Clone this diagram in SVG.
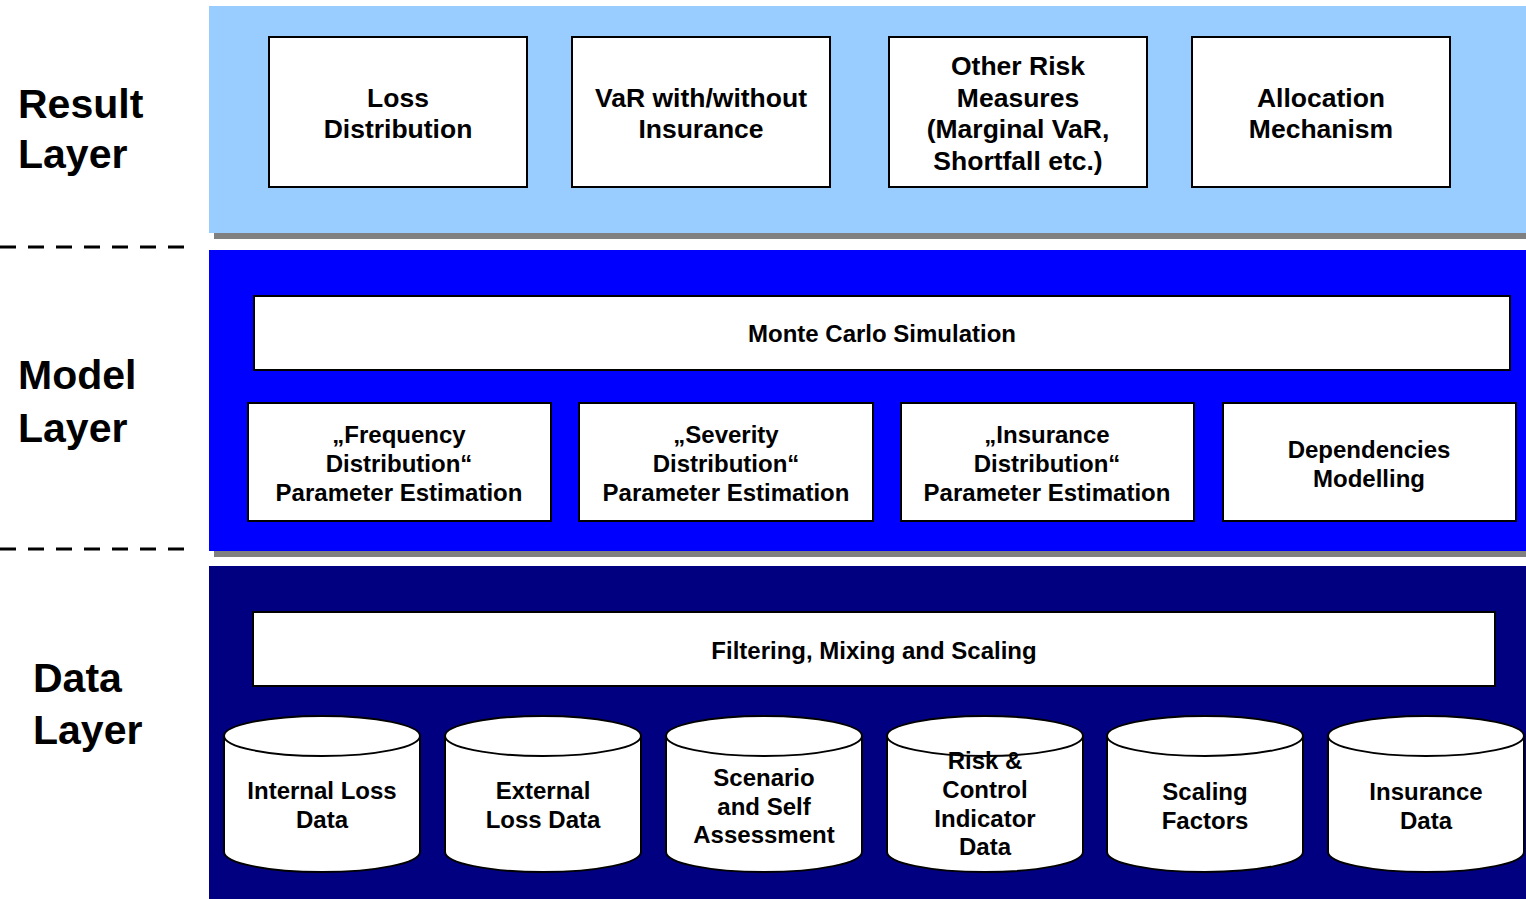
<svg xmlns="http://www.w3.org/2000/svg" width="1526" height="899" viewBox="0 0 1526 899">
<style>
text{font-family:"Liberation Sans",Arial,sans-serif;font-weight:bold;fill:#000;text-anchor:middle}
.lbl{font-size:41px;text-anchor:start}
.t26{font-size:26.5px}
.t24{font-size:24px}
.box{fill:#fff;stroke:#000;stroke-width:2}
.dash{stroke:#000;stroke-width:3;stroke-dasharray:16 12}
.shadow{fill:#808080}
</style>
<defs>
<path id="cyl" d="M0,20 A98,20 0 0 1 196,20 V136 A98,20 0 0 1 0,136 Z"/>
</defs>
<g id="layers">
<rect class="shadow" x="214" y="233" width="1312" height="6"/>
<rect x="209" y="6" width="1317" height="227" fill="#99CCFF"/>
<rect class="shadow" x="214" y="551" width="1312" height="6"/>
<rect x="209" y="250" width="1317" height="301" fill="#0000FF"/>
<rect x="209" y="566" width="1317" height="333" fill="#000080"/>
<line class="dash" x1="0" y1="247" x2="196" y2="247"/>
<line class="dash" x1="0" y1="549" x2="196" y2="549"/>
<text class="lbl" x="18" y="118">Result</text>
<text class="lbl" x="18" y="168">Layer</text>
<text class="lbl" x="18" y="389">Model</text>
<text class="lbl" x="18" y="442">Layer</text>
<text class="lbl" x="33" y="692">Data</text>
<text class="lbl" x="33" y="744">Layer</text>
</g>
<g id="loss-distribution">
<rect class="box" x="269" y="37" width="258" height="150"/>
<text class="t26" x="398" y="107">Loss</text>
<text class="t26" x="398" y="138">Distribution</text>
</g>
<g id="var">
<rect class="box" x="572" y="37" width="258" height="150"/>
<text class="t26" x="701" y="107">VaR with/without</text>
<text class="t26" x="701" y="138">Insurance</text>
</g>
<g id="other-risk">
<rect class="box" x="889" y="37" width="258" height="150"/>
<text class="t26" x="1018" y="75">Other Risk</text>
<text class="t26" x="1018" y="107">Measures</text>
<text class="t26" x="1018" y="138">(Marginal VaR,</text>
<text class="t26" x="1018" y="170">Shortfall etc.)</text>
</g>
<g id="allocation">
<rect class="box" x="1192" y="37" width="258" height="150"/>
<text class="t26" x="1321" y="107">Allocation</text>
<text class="t26" x="1321" y="138">Mechanism</text>
</g>
<g id="monte-carlo">
<rect class="box" x="254" y="296" width="1256" height="74"/>
<text class="t24" x="882" y="342">Monte Carlo Simulation</text>
</g>
<g id="frequency">
<rect class="box" x="248" y="403" width="303" height="118"/>
<text class="t24" x="399" y="443">„Frequency</text>
<text class="t24" x="399" y="472">Distribution“</text>
<text class="t24" x="399" y="501">Parameter Estimation</text>
</g>
<g id="severity">
<rect class="box" x="579" y="403" width="294" height="118"/>
<text class="t24" x="726" y="443">„Severity</text>
<text class="t24" x="726" y="472">Distribution“</text>
<text class="t24" x="726" y="501">Parameter Estimation</text>
</g>
<g id="insurance-dist">
<rect class="box" x="901" y="403" width="293" height="118"/>
<text class="t24" x="1047" y="443">„Insurance</text>
<text class="t24" x="1047" y="472">Distribution“</text>
<text class="t24" x="1047" y="501">Parameter Estimation</text>
</g>
<g id="dependencies">
<rect class="box" x="1223" y="403" width="293" height="118"/>
<text class="t24" x="1369" y="458">Dependencies</text>
<text class="t24" x="1369" y="487">Modelling</text>
</g>
<g id="filtering">
<rect class="box" x="253" y="612" width="1242" height="74"/>
<text class="t24" x="874" y="659">Filtering, Mixing and Scaling</text>
</g>
<g id="internal-loss">
<use href="#cyl" class="box" x="224" y="716"/>
<path d="M224,736 A98,20 0 0 0 420,736" fill="none" stroke="#000" stroke-width="2"/>
<text class="t24" x="322" y="799">Internal Loss</text>
<text class="t24" x="322" y="828">Data</text>
</g>
<g id="external-loss">
<use href="#cyl" class="box" x="445" y="716"/>
<path d="M445,736 A98,20 0 0 0 641,736" fill="none" stroke="#000" stroke-width="2"/>
<text class="t24" x="543" y="799">External</text>
<text class="t24" x="543" y="828">Loss Data</text>
</g>
<g id="scenario">
<use href="#cyl" class="box" x="666" y="716"/>
<path d="M666,736 A98,20 0 0 0 862,736" fill="none" stroke="#000" stroke-width="2"/>
<text class="t24" x="764" y="786">Scenario</text>
<text class="t24" x="764" y="815">and Self</text>
<text class="t24" x="764" y="843">Assessment</text>
</g>
<g id="risk-control">
<use href="#cyl" class="box" x="887" y="716"/>
<path d="M887,736 A98,20 0 0 0 1083,736" fill="none" stroke="#000" stroke-width="2"/>
<text class="t24" x="985" y="769">Risk &amp;</text>
<text class="t24" x="985" y="798">Control</text>
<text class="t24" x="985" y="827">Indicator</text>
<text class="t24" x="985" y="855">Data</text>
</g>
<g id="scaling">
<use href="#cyl" class="box" x="1107" y="716"/>
<path d="M1107,736 A98,20 0 0 0 1303,736" fill="none" stroke="#000" stroke-width="2"/>
<text class="t24" x="1205" y="800">Scaling</text>
<text class="t24" x="1205" y="829">Factors</text>
</g>
<g id="insurance-data">
<use href="#cyl" class="box" x="1328" y="716"/>
<path d="M1328,736 A98,20 0 0 0 1524,736" fill="none" stroke="#000" stroke-width="2"/>
<text class="t24" x="1426" y="800">Insurance</text>
<text class="t24" x="1426" y="829">Data</text>
</g>
<g id="connectors"/>
</svg>
